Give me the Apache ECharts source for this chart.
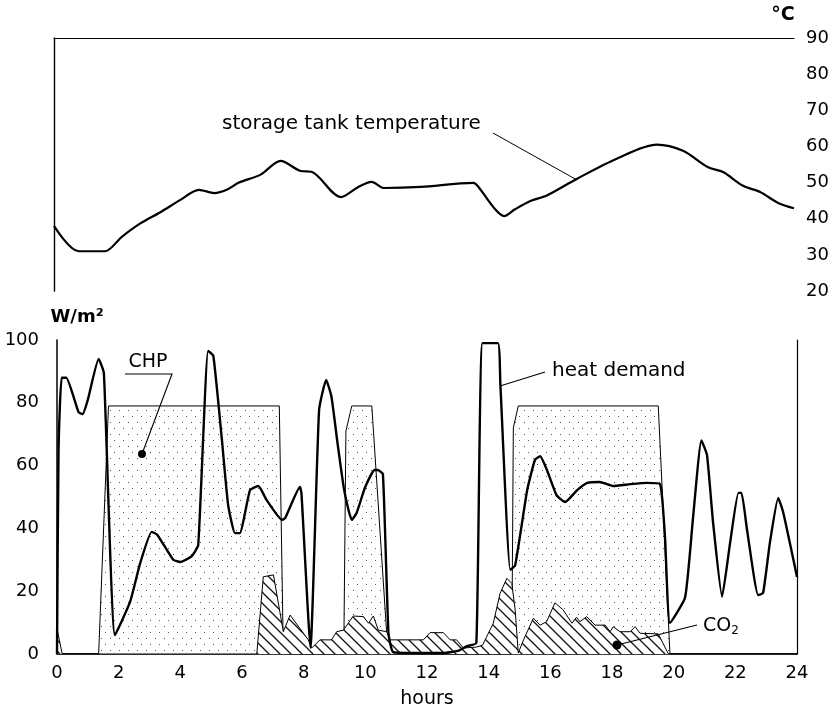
<!DOCTYPE html>
<html lang="en">
<head>
  <meta charset="UTF-8">
  <title>CHP heat demand</title>
  <script src="https://cdn.jsdelivr.net/npm/echarts@6/dist/echarts.min.js"></script>
  <style>
    body { margin: 0; background: #fff; }
    #chart { width: 835px; height: 719px; }
  </style>
</head>
<body>
<div id="chart"></div>
<script>
  // storage tank temperature (top panel, degC)
  let tempHours = [0, 0.8, 1.65, 2.2, 2.8, 3.45, 4.1, 4.7, 5.2, 5.6, 6.0, 6.7, 7.35, 8.0, 8.35, 9.3, 9.87, 10.3, 10.7, 11.9, 13.6, 13.75, 14.25, 14.6, 14.95, 15.45, 16.0, 16.95, 18.25, 19.55, 20.4, 21.2, 21.7, 22.35, 22.9, 23.5, 24];
  let tempValues = [38, 31, 31, 35, 38.7, 41.8, 45.2, 48, 47.1, 48, 50, 52.2, 56, 53.2, 53, 46, 48.8, 50.2, 48.5, 48.8, 49.9, 49, 43.2, 40.7, 42.6, 44.9, 46.5, 51, 56.6, 60.5, 58.8, 54.3, 52.9, 49.1, 47.4, 44.3, 42.9];

  // heat demand (W/m2)
  let heatHours = [0, 0.05, 0.15, 0.3, 0.7, 0.83, 1.0, 1.35, 1.52, 1.88, 2.37, 2.7, 3.07, 3.25, 3.77, 4.0, 4.37, 4.58, 4.9, 5.07, 5.35, 5.55, 5.77, 5.93, 6.26, 6.53, 6.8, 7.3, 7.4, 7.88, 7.93, 8.22, 8.5, 8.73, 8.9, 9.1, 9.3, 9.45, 9.56, 9.72, 9.99, 10.3, 10.4, 10.57, 10.75, 10.9, 11.5, 12.5, 13.0, 13.3, 13.6, 13.8, 14.3, 14.38, 14.7, 14.86, 15.25, 15.5, 15.67, 15.89, 16.2, 16.48, 16.87, 17.2, 17.6, 18.03, 18.6, 19.14, 19.56, 19.72, 19.88, 20.37, 20.63, 20.9, 21.08, 21.28, 21.57, 21.83, 22.1, 22.2, 22.38, 22.74, 22.9, 23.12, 23.39, 23.55, 23.94, 24];
  let heatValues = [0, 65, 88, 88, 77, 76.4, 81, 94, 89.5, 6, 16.6, 29, 38.9, 38, 30, 29.3, 31.2, 34.7, 96.5, 95, 68, 47.5, 38.5, 38.5, 52.2, 53.5, 49, 42.7, 43.3, 53.2, 51, 2, 77.7, 87.3, 82, 67, 53, 46, 42.7, 45, 53, 58.6, 58.6, 57.3, 6.7, 0.6, 0.3, 0.3, 1, 2.5, 3.5, 99, 99, 85.7, 26.8, 28.3, 52.2, 61.8, 63, 58.6, 50.6, 48.4, 52.2, 54.5, 54.8, 53.5, 54.1, 54.5, 54.1, 37, 9.9, 18, 43.6, 68, 63.4, 41.7, 18.2, 35.4, 51.3, 51.3, 39.5, 18.8, 19.4, 35.4, 49.7, 45.2, 27.4, 24.5];

  // CHP output (W/m2)
  let chpHours = [0, 1.35, 1.67, 7.21, 7.33, 7.36, 9.3, 9.37, 9.56, 10.21, 10.69, 10.8, 14.75, 14.8, 14.96, 19.5, 19.88, 24];
  let chpValues = [0, 0, 79, 79, 7, 0, 0, 71, 79, 79, 7, 0, 0, 72, 79, 79, 0, 0];

  // CO2 (W/m2)
  let co2Hours = [0, 0.17, 6.48, 6.69, 7.02, 7.34, 7.56, 8.15, 8.26, 8.53, 8.9, 9.07, 9.29, 9.61, 9.94, 10.1, 10.26, 10.42, 10.69, 10.8, 11.88, 12.1, 12.53, 12.75, 12.96, 13.18, 13.6, 13.8, 14.15, 14.37, 14.59, 14.75, 14.86, 14.96, 15.13, 15.45, 15.67, 15.88, 16.15, 16.42, 16.7, 16.85, 16.96, 17.18, 17.45, 17.78, 17.94, 18.04, 18.26, 18.59, 18.75, 18.91, 19.5, 19.83, 24];
  let co2Values = [8, 0, 0, 24.6, 25.2, 7.1, 12.4, 4.5, 1.9, 4.5, 4.5, 7.1, 7.6, 12.1, 11.9, 9.8, 12.1, 7.6, 7.1, 4.5, 4.5, 6.8, 6.8, 4.5, 4.5, 1.9, 2.2, 2.8, 9.8, 19.3, 24.1, 22.5, 14, 0.3, 4.5, 11.4, 9.2, 10.3, 16.3, 14, 9.8, 11.7, 10.3, 11.9, 9.2, 9.2, 7.1, 8.7, 7.1, 7.1, 8.7, 6.6, 6.4, 0, 0];

  let tempTicks = [20, 90, 10];
  let powerTicks = [0, 100, 20];
  let hourTicks = [0, 24, 2];

  function pairs(xs, ys) {
    return xs.map((x, i) => [x, ys[i]]);
  }

  // fill patterns
  function dotPattern() {
    let c = document.createElement('canvas');
    c.width = 9; c.height = 12;
    let g = c.getContext('2d');
    g.fillStyle = '#fff';
    g.fillRect(0, 0, 9, 12);
    g.fillStyle = '#555';
    g.fillRect(2, 2, 1, 1);
    g.fillRect(6, 8, 1, 1);
    return c;
  }
  function hatchPattern() {
    let s = 11;
    let c = document.createElement('canvas');
    c.width = s; c.height = s;
    let g = c.getContext('2d');
    g.fillStyle = '#fff';
    g.fillRect(0, 0, s, s);
    g.strokeStyle = '#111';
    g.lineWidth = 1.3;
    g.beginPath();
    g.moveTo(-1, -1); g.lineTo(s + 1, s + 1);
    g.moveTo(-1, s - 1); g.lineTo(1, s + 1);
    g.moveTo(s - 1, -1); g.lineTo(s + 1, 1);
    g.stroke();
    return c;
  }

  let font = 'DejaVu Sans';
  let chart = echarts.init(document.getElementById('chart'));

  let option = {
    backgroundColor: '#fff',
    animation: false,
    grid: [
      { left: 54, width: 740, top: 38, height: 253 },
      { left: 57, width: 740, top: 340, height: 314 }
    ],
    xAxis: [
      {
        type: 'value', gridIndex: 0, position: 'top', min: hourTicks[0], max: hourTicks[1],
        axisLine: { show: true, lineStyle: { color: '#000', width: 1.2 } },
        axisTick: { show: false }, axisLabel: { show: false }, splitLine: { show: false }
      },
      {
        type: 'value', gridIndex: 1, min: hourTicks[0], max: hourTicks[1], interval: hourTicks[2],
        name: 'hours', nameLocation: 'middle', nameGap: 36,
        nameTextStyle: { fontFamily: font, fontSize: 19, color: '#000' },
        axisLine: { show: true, lineStyle: { color: '#000', width: 1.5 } },
        axisTick: { show: false },
        axisLabel: { fontFamily: font, fontSize: 18, color: '#000', margin: 10 },
        splitLine: { show: false }
      }
    ],
    yAxis: [
      {
        type: 'value', gridIndex: 0, position: 'right', min: tempTicks[0], max: tempTicks[1], interval: tempTicks[2],
        axisLine: { show: true, lineStyle: { color: '#000', width: 1.2 } },
        axisTick: { show: false },
        axisLabel: { fontFamily: font, fontSize: 18, color: '#000', margin: 12 },
        splitLine: { show: false }
      },
      {
        type: 'value', gridIndex: 0, position: 'left', min: tempTicks[0], max: tempTicks[1],
        axisLine: { show: true, lineStyle: { color: '#000', width: 1.2 } },
        axisTick: { show: false }, axisLabel: { show: false }, splitLine: { show: false }
      },
      {
        type: 'value', gridIndex: 1, position: 'left', min: powerTicks[0], max: powerTicks[1], interval: powerTicks[2],
        axisLine: { show: true, lineStyle: { color: '#000', width: 1.5 } },
        axisTick: { show: false },
        axisLabel: { fontFamily: font, fontSize: 18, color: '#000', margin: 18 },
        splitLine: { show: false }
      },
      {
        type: 'value', gridIndex: 1, position: 'right', min: powerTicks[0], max: powerTicks[1],
        axisLine: { show: true, lineStyle: { color: '#000', width: 1.2 } },
        axisTick: { show: false }, axisLabel: { show: false }, splitLine: { show: false }
      }
    ],
    series: [
      {
        name: 'storage tank temperature', type: 'line', xAxisIndex: 0, yAxisIndex: 0,
        data: pairs(tempHours, tempValues), smooth: 0.3, symbol: 'none',
        lineStyle: { color: '#000', width: 2.2 }
      },
      {
        name: 'CHP', type: 'line', xAxisIndex: 1, yAxisIndex: 2,
        data: pairs(chpHours, chpValues), symbol: 'none', z: 2,
        lineStyle: { color: '#000', width: 1 },
        areaStyle: { color: { image: dotPattern(), repeat: 'repeat' }, opacity: 1 }
      },
      {
        name: 'CO2', type: 'line', xAxisIndex: 1, yAxisIndex: 2,
        data: pairs(co2Hours, co2Values), symbol: 'none', z: 3,
        lineStyle: { color: '#000', width: 1 },
        areaStyle: { color: { image: hatchPattern(), repeat: 'repeat' }, opacity: 1 }
      },
      {
        name: 'heat demand', type: 'line', xAxisIndex: 1, yAxisIndex: 2,
        data: pairs(heatHours, heatValues), symbol: 'none', z: 4, smooth: 0.15,
        lineStyle: { color: '#000', width: 2.4 }
      }
    ],
    graphic: [
      { type: 'text', z: 10, x: 783, y: 15, style: { text: '°C', font: 'bold 19px "DejaVu Sans"', fill: '#000', align: 'center', verticalAlign: 'middle' } },
      { type: 'text', z: 10, x: 77, y: 317, style: { text: 'W/m²', font: 'bold 18px "DejaVu Sans"', fill: '#000', align: 'center', verticalAlign: 'middle' } },
      // storage tank label
      { type: 'text', z: 10, x: 222, y: 124, style: { text: 'storage tank temperature', font: '20px "DejaVu Sans"', fill: '#000', verticalAlign: 'middle' } },
      { type: 'line', z: 10, shape: { x1: 493, y1: 133, x2: 577, y2: 180 }, style: { stroke: '#000', lineWidth: 1 } },
      // CHP label
      { type: 'text', z: 10, x: 148, y: 362, style: { text: 'CHP', font: '19px "DejaVu Sans"', fill: '#000', align: 'center', verticalAlign: 'middle' } },
      { type: 'polyline', z: 10, shape: { points: [[125, 374], [172, 374], [142, 454]] }, style: { stroke: '#000', lineWidth: 1.1, fill: null } },
      { type: 'circle', z: 10, shape: { cx: 142, cy: 454, r: 4 }, style: { fill: '#000' } },
      // heat demand label
      { type: 'text', z: 10, x: 552, y: 371, style: { text: 'heat demand', font: '20px "DejaVu Sans"', fill: '#000', verticalAlign: 'middle' } },
      { type: 'line', z: 10, shape: { x1: 545, y1: 372, x2: 500, y2: 386 }, style: { stroke: '#000', lineWidth: 1.1 } },
      // CO2 label
      {
        type: 'text', z: 10, x: 703, y: 626,
        style: {
          text: '{a|CO}{b|2}', verticalAlign: 'middle', fill: '#000',
          rich: { a: { fontFamily: font, fontSize: 19 }, b: { fontFamily: font, fontSize: 12, padding: [10, 0, 0, 0] } }
        }
      },
      { type: 'line', z: 10, shape: { x1: 697, y1: 625, x2: 617, y2: 645 }, style: { stroke: '#000', lineWidth: 1.2 } },
      { type: 'circle', z: 10, shape: { cx: 617, cy: 645, r: 4.5 }, style: { fill: '#000' } }
    ]
  };
  chart.setOption(option);
</script>
</body>
</html>
